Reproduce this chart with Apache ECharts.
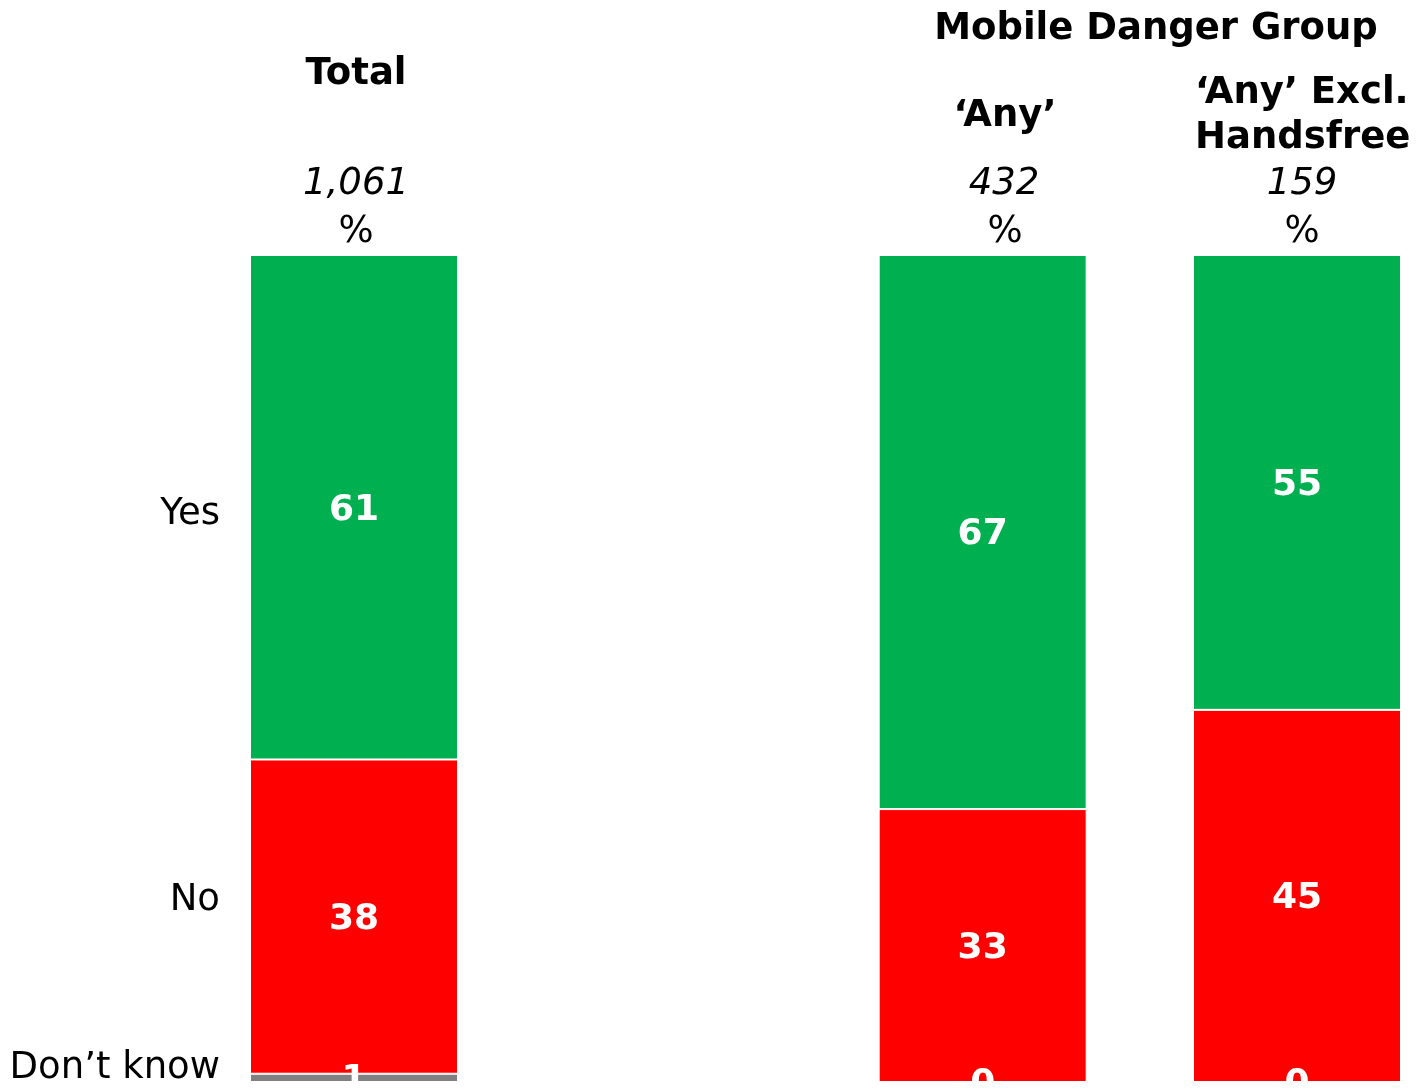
<!DOCTYPE html>
<html>
<head>
<meta charset="utf-8">
<script src="https://cdn.jsdelivr.net/npm/echarts@6/dist/echarts.min.js"></script>
<style>
  html, body { margin: 0; padding: 0; background: #fff; }
  #chart { width: 1416px; height: 1089px; }
</style>
</head>
<body>
<div id="chart"></div>
<script>
// Columns: a blank slot separates Total from the Mobile Danger Group columns
const categories = ['Total', '', '‘Any’', '‘Any’ Excl. Handsfree'];
const yesValues = [61, null, 67, 55];
const noValues = [38, null, 33, 45];
const dontKnowValues = [1, null, 0, 0];
const sampleSizes = ['1,061', '', '432', '159'];
const answerLabels = ['Yes', 'No', 'Don’t know'];
const groupTitle = 'Mobile Danger Group';

const FONT = '"DejaVu Sans", Verdana, sans-serif';
const colors = { yes: '#00B050', no: '#FF0000', dk: '#808080' };

const chart = echarts.init(document.getElementById('chart'), null, { renderer: 'canvas' });

function seriesFor(name, values, color) {
  return {
    name: name,
    type: 'bar',
    stack: 'all',
    data: values,
    barWidth: 208,
    itemStyle: { color: color, borderColor: '#ffffff', borderWidth: 1 },
    label: {
      show: true,
      position: 'inside',
      offset: [0, 3],
      color: '#ffffff',
      fontFamily: FONT,
      fontWeight: 'bold',
      fontSize: 36,
      formatter: p => (p.value == null ? '' : String(p.value))
    },
    silent: true,
    animation: false
  };
}

function txt(text, x, y, opts) {
  return {
    type: 'text',
    style: Object.assign({
      text: text, x: x, y: y + 2,
      fill: '#000', font: '37px ' + FONT,
      textAlign: 'center', textVerticalAlign: 'middle'
    }, opts || {})
  };
}

const BOLD = 'bold 37px ' + FONT;
const ITALIC = 'italic 37px ' + FONT;

// Column headings, sample sizes and answer labels
const graphics = [
  txt(groupTitle, 1156, 27, { font: BOLD }),
  txt(categories[0], 356, 72, { font: BOLD }),
  txt(categories[2], 1005, 114, { font: BOLD }),
  txt('‘Any’ Excl.\nHandsfree', 1195, 114, { font: BOLD, textAlign: 'left', lineHeight: 45 }),
  txt(sampleSizes[0], 356, 182, { font: ITALIC }),
  txt(sampleSizes[2], 1004, 182, { font: ITALIC }),
  txt(sampleSizes[3], 1302, 182, { font: ITALIC }),
  txt('%', 356, 230),
  txt('%', 1005, 230),
  txt('%', 1302, 230),
  txt(answerLabels[0], 220, 512, { textAlign: 'right' }),
  txt(answerLabels[1], 220, 898, { textAlign: 'right' }),
  txt(answerLabels[2], 220, 1066, { textAlign: 'right' })
];

chart.setOption({
  backgroundColor: '#ffffff',
  animation: false,
  grid: { left: 354, right: 119, top: 255, bottom: 7, containLabel: false },
  xAxis: {
    type: 'category',
    data: categories,
    boundaryGap: false,
    show: false
  },
  yAxis: {
    type: 'value',
    min: 0,
    max: 100,
    show: false
  },
  series: [
    seriesFor('Don’t know', dontKnowValues, colors.dk),
    seriesFor('No', noValues, colors.no),
    seriesFor('Yes', yesValues, colors.yes)
  ],
  graphic: graphics
});
</script>
</body>
</html>
